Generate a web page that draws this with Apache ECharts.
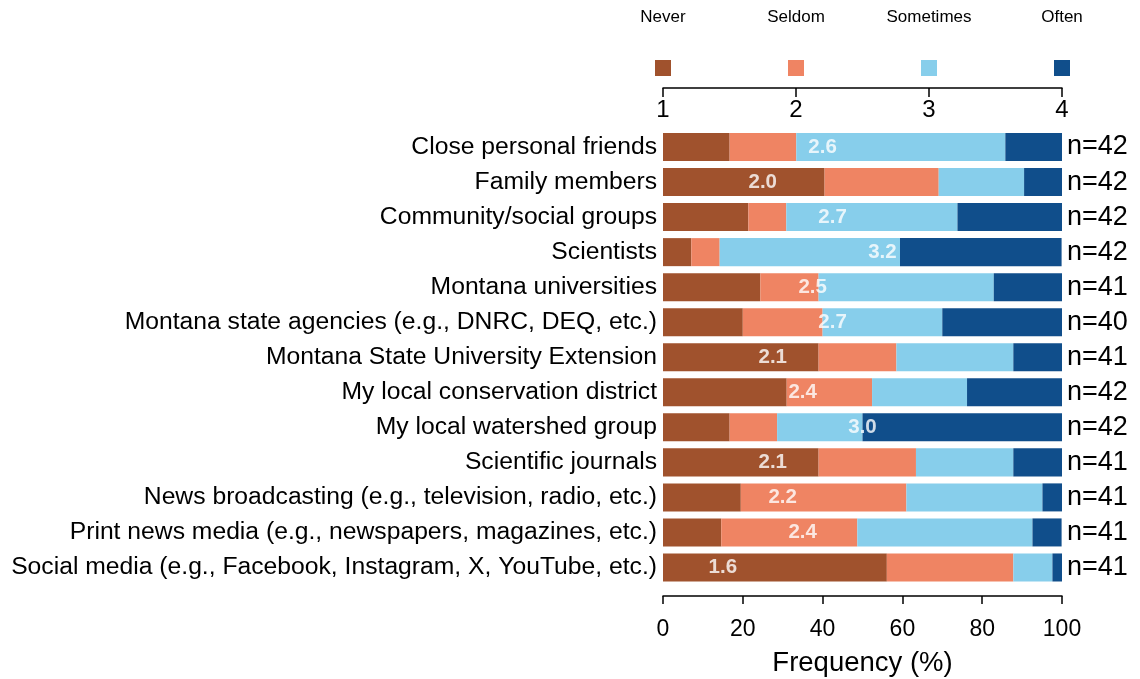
<!DOCTYPE html>
<html>
<head>
<meta charset="utf-8">
<script src="https://cdn.jsdelivr.net/npm/echarts@6/dist/echarts.min.js"></script>
<style>html,body{margin:0;padding:0;background:#fff;}#c{width:1140px;height:679px;}</style>
</head>
<body>
<div id="c"></div>
<script>
const categories = [
  "Close personal friends",
  "Family members",
  "Community/social groups",
  "Scientists",
  "Montana universities",
  "Montana state agencies (e.g., DNRC, DEQ, etc.)",
  "Montana State University Extension",
  "My local conservation district",
  "My local watershed group",
  "Scientific journals",
  "News broadcasting (e.g., television, radio, etc.)",
  "Print news media (e.g., newspapers, magazines, etc.)",
  "Social media (e.g., Facebook, Instagram, X, YouTube, etc.)"
];
const levels = ["Never", "Seldom", "Sometimes", "Often"];
const never     = [16.7, 40.5, 21.4,  7.1, 24.4, 20.0, 39.0, 31.0, 16.7, 39.0, 19.5, 14.6, 56.1];
const seldom    = [16.7, 28.6,  9.5,  7.1, 14.6, 20.0, 19.5, 21.4, 11.9, 24.4, 41.5, 34.1, 31.7];
const sometimes = [52.4, 21.4, 42.9, 45.2, 43.9, 30.0, 29.3, 23.8, 21.4, 24.4, 34.1, 43.9,  9.8];
const often     = [14.3,  9.5, 26.2, 40.5, 17.1, 30.0, 12.2, 23.8, 50.0, 12.2,  4.9,  7.3,  2.4];
const means     = [2.6, 2.0, 2.7, 3.2, 2.5, 2.7, 2.1, 2.4, 3.0, 2.1, 2.2, 2.4, 1.6];
const nCounts   = [42, 42, 42, 42, 41, 40, 41, 42, 42, 41, 41, 41, 41];
const bottomTicks = [0, 20, 40, 60, 80, 100];
const topTicks = [1, 2, 3, 4];

const colors = ["#A0522D", "#EF8463", "#87CEEB", "#104E8B"];
const FONT = "'Liberation Sans', Arial, sans-serif";
const seriesData = [never, seldom, sometimes, often];

const chart = echarts.init(document.getElementById('c'), null, {renderer: 'canvas'});

const series = levels.map((name, i) => ({
  name: name,
  type: 'bar',
  stack: 'total',
  xAxisIndex: 0,
  yAxisIndex: 0,
  barCategoryGap: '20%',
  itemStyle: {color: colors[i]},
  emphasis: {disabled: true},
  data: seriesData[i]
}));

series.push({
  type: 'scatter',
  xAxisIndex: 0,
  yAxisIndex: 0,
  symbolSize: 0,
  z: 10,
  silent: true,
  data: means.map((m, i) => [(m - 1) * 25, categories[i], m]),
  label: {
    show: true,
    position: 'inside',
    formatter: p => p.value[2].toFixed(1),
    color: '#fff',
    fontWeight: 'bold',
    fontSize: 20.5,
    fontFamily: FONT
  }
});

const option = {
  animation: false,
  backgroundColor: '#fff',
  grid: {left: 663, right: 78, top: 129.5, bottom: 94, containLabel: false, outerBoundsMode: 'none'},
  xAxis: [
    {
      type: 'value', min: bottomTicks[0], max: bottomTicks[bottomTicks.length - 1], interval: 20,
      position: 'bottom', offset: 11,
      name: 'Frequency (%)', nameLocation: 'middle', nameGap: 53,
      nameTextStyle: {fontSize: 27.5, color: '#000', fontFamily: FONT},
      axisLine: {show: true, lineStyle: {color: '#000', width: 1.5}},
      axisTick: {show: true, length: 8, lineStyle: {color: '#000', width: 1.5}},
      axisLabel: {fontSize: 23, color: '#000', margin: 22, fontFamily: FONT},
      splitLine: {show: false}
    },
    {
      type: 'value', min: topTicks[0], max: topTicks[topTicks.length - 1], interval: 1,
      position: 'top', offset: 41.5,
      axisLine: {show: true, lineStyle: {color: '#000', width: 1.5}},
      axisTick: {show: true, inside: true, length: 9, lineStyle: {color: '#000', width: 1.5}},
      axisLabel: {inside: true, fontSize: 24, color: '#000', margin: 10, fontFamily: FONT},
      splitLine: {show: false}
    }
  ],
  yAxis: [
    {
      type: 'category', inverse: true, data: categories,
      axisLine: {show: false}, axisTick: {show: false},
      axisLabel: {interval: 0, fontSize: 24.7, color: '#000', margin: 6, fontFamily: FONT}
    },
    {
      type: 'category', inverse: true, position: 'right', data: categories,
      axisLine: {show: false}, axisTick: {show: false},
      axisLabel: {interval: 0, fontSize: 27, color: '#000', margin: 5, fontFamily: FONT,
        formatter: (v, i) => 'n=' + nCounts[i]}
    }
  ],
  series: series
};
chart.setOption(option);

// legend: squares and labels aligned to the top (1–4) axis
const graphics = [];
levels.forEach((name, i) => {
  const x = chart.convertToPixel({xAxisIndex: 1}, topTicks[i]);
  graphics.push({
    type: 'rect', shape: {x: x - 8, y: 60, width: 16, height: 16},
    style: {fill: colors[i]}
  });
  graphics.push({
    type: 'text', x: x, y: 17,
    style: {text: name, fill: '#000', font: '17px ' + FONT, textAlign: 'center', textVerticalAlign: 'middle'}
  });
});
chart.setOption({graphic: graphics});
</script>
</body>
</html>
